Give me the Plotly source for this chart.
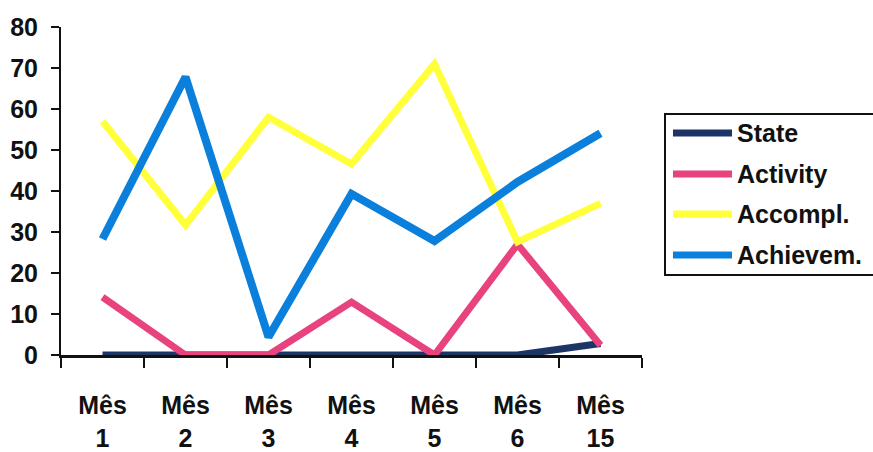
import plotly.graph_objects as go

# Monthly scores per dimension
months = ["Mês<br>1", "Mês<br>2", "Mês<br>3", "Mês<br>4", "Mês<br>5", "Mês<br>6", "Mês<br>15"]
state = [0, 0, 0, 0, 0, 0, 2.8]
activity = [14.1, 0, 0, 12.9, 0, 27, 2.4]
accompl = [57, 31.7, 58, 46.6, 71, 27.6, 37]
achievem = [28.3, 67.8, 4.4, 39.3, 27.8, 42.2, 54.1]

y_ticks = [0, 10, 20, 30, 40, 50, 60, 70, 80]

series = [
    ("State", state, "#1d3566", 7),
    ("Activity", activity, "#e8437f", 7),
    ("Accompl.", accompl, "#ffff3a", 7),
    ("Achievem.", achievem, "#0a80dc", 8),
]

font_family = "Arial, Liberation Sans, sans-serif"
ink = "#111111"

# plot area geometry in pixels
W, H = 873, 452
L, R, T, B = 61, 231, 27, 97
pw, ph = W - L - R, H - T - B


def px_x(x):
    return (x - L) / pw


def px_y(y):
    return (H - B - y) / ph


fig = go.Figure()
for name, vals, color, width in series:
    fig.add_trace(go.Scatter(
        x=months, y=vals, name=name, mode="lines",
        line=dict(color=color, width=width),
        showlegend=False,
    ))

# legend box with swatches and labels
shapes = [dict(
    type="rect", xref="paper", yref="paper",
    x0=px_x(665), x1=px_x(890), y0=px_y(275), y1=px_y(114),
    line=dict(color=ink, width=2), fillcolor="rgba(0,0,0,0)", layer="above",
)]
annotations = []
row_y = [133, 174, 214, 255]
for (name, vals, color, width), ry in zip(series, row_y):
    shapes.append(dict(
        type="line", xref="paper", yref="paper",
        x0=px_x(673), x1=px_x(732), y0=px_y(ry), y1=px_y(ry),
        line=dict(color=color, width=7), layer="above",
    ))
    annotations.append(dict(
        xref="paper", yref="paper", x=px_x(735), y=px_y(ry),
        xanchor="left", yanchor="middle", showarrow=False, text=name,
        font=dict(family=font_family, size=25, color=ink, weight="bold"),
    ))

fig.update_layout(
    width=W, height=H,
    margin=dict(l=L, r=R, t=T, b=B, autoexpand=False),
    paper_bgcolor="white", plot_bgcolor="white",
    showlegend=False,
    shapes=shapes, annotations=annotations,
)

fig.update_xaxes(
    type="category", range=[-0.5, 6.5], automargin=False,
    showline=True, linecolor=ink, linewidth=3,
    ticks="outside", tickson="boundaries", ticklen=10, tickwidth=2, tickcolor=ink,
    showgrid=False, zeroline=False,
    ticklabelstandoff=26,
    tickfont=dict(family=font_family, size=25, color=ink, weight="bold"),
)
fig.update_yaxes(
    range=[0, 80], tickvals=y_ticks, automargin=False,
    showline=True, linecolor=ink, linewidth=2,
    ticks="outside", ticklen=8, tickwidth=2, tickcolor=ink,
    showgrid=False, zeroline=False,
    ticklabelstandoff=8,
    tickfont=dict(family=font_family, size=25, color=ink, weight="bold"),
)

fig.write_html("out.html")
